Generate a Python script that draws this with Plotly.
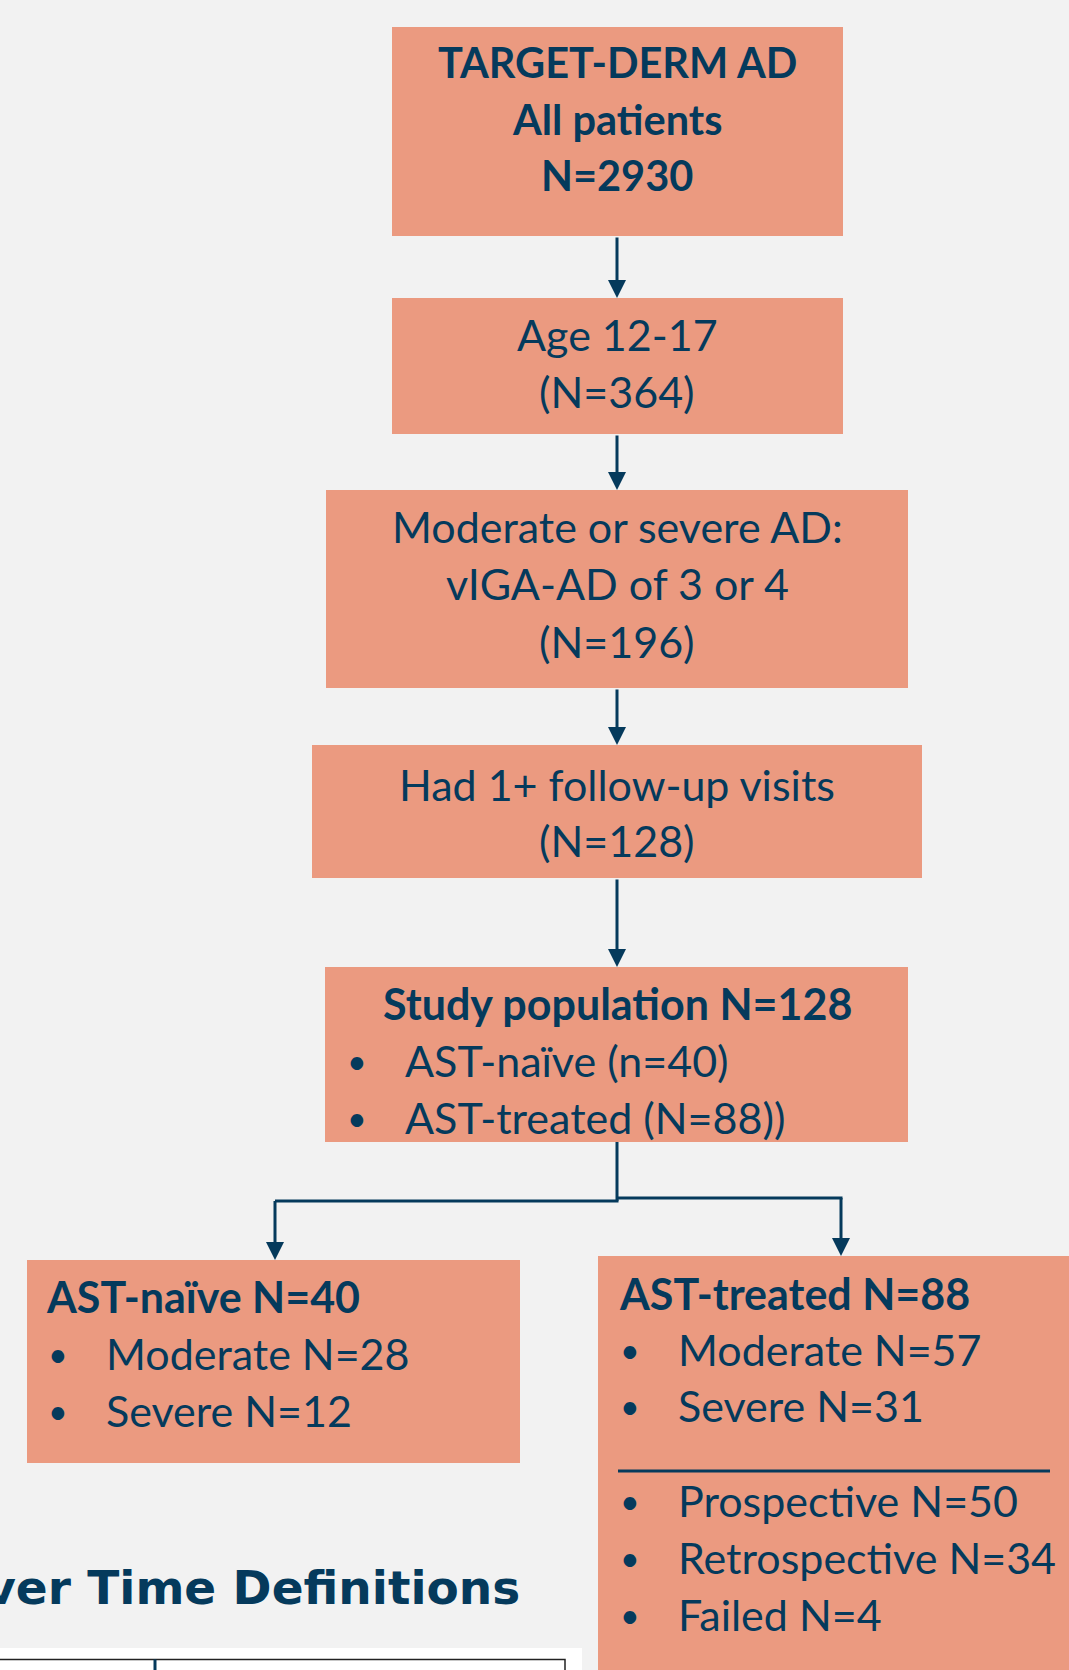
import plotly.graph_objects as go

# ---------------- data ----------------
stage_titles = [["TARGET-DERM AD", "All patients"],
                ["Age 12-17"],
                ["Moderate or severe AD:", "vIGA-AD of 3 or 4"],
                ["Had 1+ follow-up visits"],
                ["Study population"]]
stage_n = [2930, 364, 196, 128, 128]
study_groups = ["AST-naïve", "AST-treated"]
study_group_n = [40, 88]
severity_labels = ["Moderate", "Severe"]
naive_severity_n = [28, 12]
treated_severity_n = [57, 31]
treated_source_labels = ["Prospective", "Retrospective", "Failed"]
treated_source_n = [50, 34, 4]
section_title = "Outcomes Over Time Definitions"

# ---------------- style / layout ----------------
W, H = 1069, 1670
BG = "#F2F2F2"
FILL = "#EB9A80"
NAVY = "#053A5C"
FONT = "Lato"
FS = 43
DY = -3  # vertical text nudge

fig = go.Figure()
shapes = []
ann = []

def box(x0, x1, y0, y1):
    shapes.append(dict(type="rect", xref="x", yref="y", x0=x0, x1=x1, y0=y0, y1=y1,
                       fillcolor=FILL, line=dict(width=0), layer="below"))

def text(x, y, s, anchor="center", bold=False, size=FS, family=FONT):
    if bold:
        s = "<b>" + s + "</b>"
    ann.append(dict(x=x, y=y + DY, xref="x", yref="y", text=s, showarrow=False,
                    xanchor=anchor, yanchor="middle",
                    font=dict(family=family, size=size, color=NAVY)))

def bullet(x, y):
    text(x, y, "•", anchor="left", size=34)

def line(x0, y0, x1, y1):
    shapes.append(dict(type="line", xref="x", yref="y", x0=x0, y0=y0, x1=x1, y1=y1,
                       line=dict(color=NAVY, width=3)))

def arrow(x, y0, y1):
    ann.append(dict(x=x, y=y1, ax=x, ay=y0, xref="x", yref="y", axref="x", ayref="y",
                    showarrow=True, arrowhead=2, arrowsize=1.2, arrowwidth=3,
                    arrowcolor=NAVY, text=""))

# main boxes
main_boxes = [(392, 843, 27, 236), (392, 843, 298, 434), (326, 908, 490, 688),
              (312, 922, 745, 878), (325, 908, 967, 1142)]
for b in main_boxes:
    box(*b)
box(27, 520, 1260, 1463)
box(598, 1090, 1256, 1700)

CX = 617
# box 1
ys1 = [65, 122, 178]
lines1 = stage_titles[0] + [f"N={stage_n[0]}"]
for y, s in zip(ys1, lines1):
    text(CX, y, s, bold=True, size=41.5)
# box 2
for y, s in zip([337, 394], stage_titles[1] + [f"(N={stage_n[1]})"]):
    text(CX, y, s)
# box 3
for y, s in zip([529, 586, 644], stage_titles[2] + [f"(N={stage_n[2]})"]):
    text(CX, y, s)
# box 4
for y, s in zip([787, 843], stage_titles[3] + [f"(N={stage_n[3]})"]):
    text(CX, y, s)
# box 5
text(CX, 1006, f"{stage_titles[4][0]} N={stage_n[4]}", bold=True)
bullet(345, 1063)
text(403, 1063, f"{study_groups[0]} (n={study_group_n[0]})", anchor="left")
bullet(345, 1120)
text(403, 1120, f"{study_groups[1]} (N={study_group_n[1]}))", anchor="left")

# left box
text(44, 1299, f"{study_groups[0]} N={study_group_n[0]}", anchor="left", bold=True)
for y, lab, n in zip([1356, 1413], severity_labels, naive_severity_n):
    bullet(46, y)
    text(104, y, f"{lab} N={n}", anchor="left")

# right box
text(617, 1296, f"{study_groups[1]} N={study_group_n[1]}", anchor="left", bold=True)
for y, lab, n in zip([1352, 1408], severity_labels, treated_severity_n):
    bullet(618, y)
    text(676, y, f"{lab} N={n}", anchor="left")
line(618, 1471, 1050, 1471)
for y, lab, n in zip([1503, 1560, 1617], treated_source_labels, treated_source_n):
    bullet(618, y)
    text(676, y, f"{lab} N={n}", anchor="left")

# connectors
arrow(CX, 236, 298)
arrow(CX, 434, 490)
arrow(CX, 688, 745)
arrow(CX, 878, 967)
line(CX, 1142, CX, 1201)
line(275, 1201, CX + 1.5, 1201)
line(CX, 1198, 842.5, 1198)
arrow(275, 1199.5, 1260)
arrow(841, 1196.5, 1256)

# section title (clipped at left edge, as in the source)
text(522, 1590, section_title, anchor="right", bold=True, size=47, family="DejaVu Sans")

# table fragment
shapes.append(dict(type="rect", xref="x", yref="y", x0=-5, x1=582, y0=1648, y1=1700,
                   fillcolor="white", line=dict(width=0), layer="below"))
shapes.append(dict(type="rect", xref="x", yref="y", x0=-5, x1=565, y0=1659.5, y1=1700,
                   fillcolor="rgba(0,0,0,0)", line=dict(color="#222222", width=1.5)))
line(155, 1659.5, 155, 1700)

fig.add_trace(go.Scatter(x=[0, W], y=[0, H], mode="markers",
                         marker=dict(opacity=0), hoverinfo="skip", showlegend=False))

fig.update_layout(
    width=W, height=H, margin=dict(l=0, r=0, t=0, b=0),
    paper_bgcolor=BG, plot_bgcolor=BG,
    xaxis=dict(range=[0, W], visible=False, fixedrange=True),
    yaxis=dict(range=[H, 0], visible=False, fixedrange=True),
    shapes=shapes, annotations=ann, showlegend=False,
)

fig.write_html("out.html", config={"displayModeBar": False},
               post_script="document.body.style.margin='0';document.body.style.background='#F2F2F2';")
